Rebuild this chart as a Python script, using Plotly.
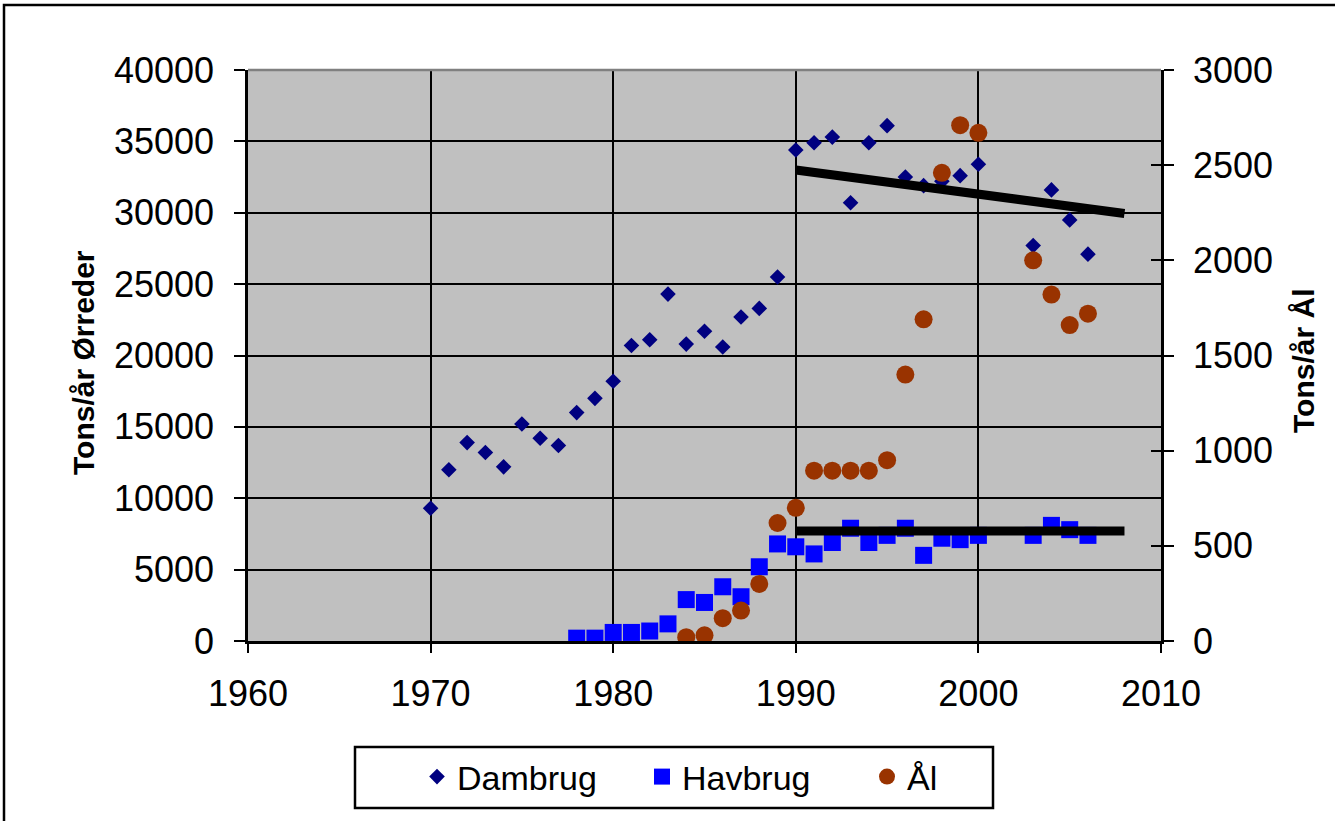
import plotly.graph_objects as go

# ---- data ----
dam_years = [1970, 1971, 1972, 1973, 1974, 1975, 1976, 1977, 1978, 1979, 1980,
             1981, 1982, 1983, 1984, 1985, 1986, 1987, 1988, 1989, 1990, 1991,
             1992, 1993, 1994, 1995, 1996, 1997, 1998, 1999, 2000, 2003, 2004,
             2005, 2006]
dam_values = [9300, 12000, 13900, 13200, 12200, 15200, 14200, 13700, 16000, 17000,
              18200, 20700, 21100, 24300, 20800, 21700, 20600, 22700, 23300, 25500,
              34400, 34900, 35300, 30700, 34900, 36100, 32500, 31900, 32200, 32600,
              33400, 27700, 31600, 29500, 27100]

hav_years = [1978, 1979, 1980, 1981, 1982, 1983, 1984, 1985, 1986, 1987, 1988,
             1989, 1990, 1991, 1992, 1993, 1994, 1995, 1996, 1997, 1998, 1999,
             2000, 2003, 2004, 2005, 2006]
hav_values = [200, 200, 600, 600, 700, 1200, 2900, 2700, 3800, 3100, 5200,
              6800, 6600, 6100, 6900, 7900, 6900, 7400, 7900, 6000, 7200, 7100,
              7400, 7400, 8100, 7800, 7400]

aal_years = [1984, 1985, 1986, 1987, 1988, 1989, 1990, 1991, 1992, 1993, 1994,
             1995, 1996, 1997, 1998, 1999, 2000, 2003, 2004, 2005, 2006]
aal_values = [20, 30, 120, 160, 300, 620, 700, 895, 895, 895, 895,
              950, 1400, 1690, 2460, 2710, 2670, 2000, 1820, 1660, 1720]

dam_trend_years = [1990, 2008]
dam_trend_values = [33000, 29950]
hav_trend_years = [1990, 2008]
hav_trend_values = [7700, 7700]

x_ticks = [1960, 1970, 1980, 1990, 2000, 2010]
left_ticks = [0, 5000, 10000, 15000, 20000, 25000, 30000, 35000, 40000]
right_ticks = [0, 500, 1000, 1500, 2000, 2500, 3000]

FONT = "Liberation Sans, Arial, sans-serif"

fig = go.Figure()
fig.add_trace(go.Scatter(x=dam_years, y=dam_values, mode="markers", name="Dambrug",
                         marker=dict(symbol="diamond", size=12, color="#000080"),
                         yaxis="y"))
fig.add_trace(go.Scatter(x=hav_years, y=hav_values, mode="markers", name="Havbrug",
                         marker=dict(symbol="square", size=17, color="#0000FF"),
                         yaxis="y"))
fig.add_trace(go.Scatter(x=dam_trend_years, y=dam_trend_values, mode="lines",
                         line=dict(color="black", width=9), showlegend=False,
                         hoverinfo="skip", yaxis="y"))
fig.add_trace(go.Scatter(x=hav_trend_years, y=hav_trend_values, mode="lines",
                         line=dict(color="black", width=9), showlegend=False,
                         hoverinfo="skip", yaxis="y"))
fig.add_trace(go.Scatter(x=aal_years, y=aal_values, mode="markers", name="Ål",
                         marker=dict(symbol="circle", size=18, color="#993300"),
                         yaxis="y2"))

W, H = 1335, 821
L, R, T, B = 248, 1161, 70, 641          # plot area in pixels
pw, ph = R - L, B - T

def px(x):
    return (x - L) / pw

def py(y):
    return (B - y) / ph

fig.update_layout(
    width=W, height=H,
    margin=dict(l=L, r=W - R, t=T, b=H - B),
    paper_bgcolor="white",
    plot_bgcolor="#C0C0C0",
    font=dict(family=FONT, color="black", size=36),
    showlegend=True,
    legend=dict(orientation="h", x=px(417), xanchor="left", y=py(777), yanchor="middle",
                bgcolor="rgba(0,0,0,0)", borderwidth=0,
                font=dict(family=FONT, size=34, color="black"),
                entrywidth=180, entrywidthmode="pixels",
                traceorder="normal"),
    xaxis=dict(range=[1960, 2010], tickvals=x_ticks, ticktext=[str(v) for v in x_ticks],
               showgrid=True, gridcolor="black", gridwidth=2,
               showline=True, linecolor="black", linewidth=2.5,
               ticks="outside", ticklen=9, tickwidth=2, tickcolor="black",
               ticklabelstandoff=10, zeroline=False,
               tickfont=dict(family=FONT, size=36)),
    yaxis=dict(range=[0, 40000], tickvals=left_ticks, ticktext=[str(v) for v in left_ticks],
               showgrid=True, gridcolor="black", gridwidth=2,
               showline=True, linecolor="black", linewidth=2.5,
               ticks="outside", ticklen=11, tickwidth=2, tickcolor="black",
               ticklabelstandoff=13, zeroline=False,
               tickfont=dict(family=FONT, size=36)),
    yaxis2=dict(range=[0, 3000], tickvals=right_ticks, ticktext=[str(v) for v in right_ticks],
                overlaying="y", side="right", showgrid=False,
                showline=True, linecolor="black", linewidth=2.5,
                ticks="outside", ticklen=10, tickwidth=2, tickcolor="black",
                ticklabelstandoff=12, zeroline=False,
                tickfont=dict(family=FONT, size=36)),
    yaxis3=dict(range=[0, 3000], tickvals=right_ticks, overlaying="y", side="right",
                showgrid=False, showline=False, showticklabels=False,
                ticks="inside", ticklen=10, tickwidth=2, tickcolor="black",
                zeroline=False),
)

# outer chart frame, top plot edge and legend box
fig.add_shape(type="rect", xref="paper", yref="paper",
              x0=px(4), x1=px(1345), y0=py(835), y1=py(5),
              line=dict(color="black", width=2.5), fillcolor="rgba(0,0,0,0)", layer="below")
fig.add_shape(type="line", xref="paper", yref="paper", x0=0, x1=1, y0=1, y1=1,
              line=dict(color="#808080", width=2.5))
fig.add_shape(type="rect", xref="paper", yref="paper",
              x0=px(355), x1=px(993), y0=py(808), y1=py(747),
              line=dict(color="black", width=2.5), fillcolor="rgba(0,0,0,0)")

fig.add_annotation(text="<b>Tons/år Ørreder</b>", xref="paper", yref="paper",
                   x=px(83), y=py(363), textangle=-90, showarrow=False,
                   font=dict(family=FONT, size=30, color="black"),
                   xanchor="center", yanchor="middle")
fig.add_annotation(text="<b>Tons/år Ål</b>", xref="paper", yref="paper",
                   x=px(1303), y=py(361), textangle=-90, showarrow=False,
                   font=dict(family=FONT, size=30, color="black"),
                   xanchor="center", yanchor="middle")

# dummy trace to activate yaxis3 (inside ticks on right axis)
fig.add_trace(go.Scatter(x=[None], y=[None], yaxis="y3", showlegend=False, hoverinfo="skip"))

fig.write_html("out.html", config={"displayModeBar": False},
               post_script="document.body.style.margin='0';document.body.style.overflow='hidden';")
